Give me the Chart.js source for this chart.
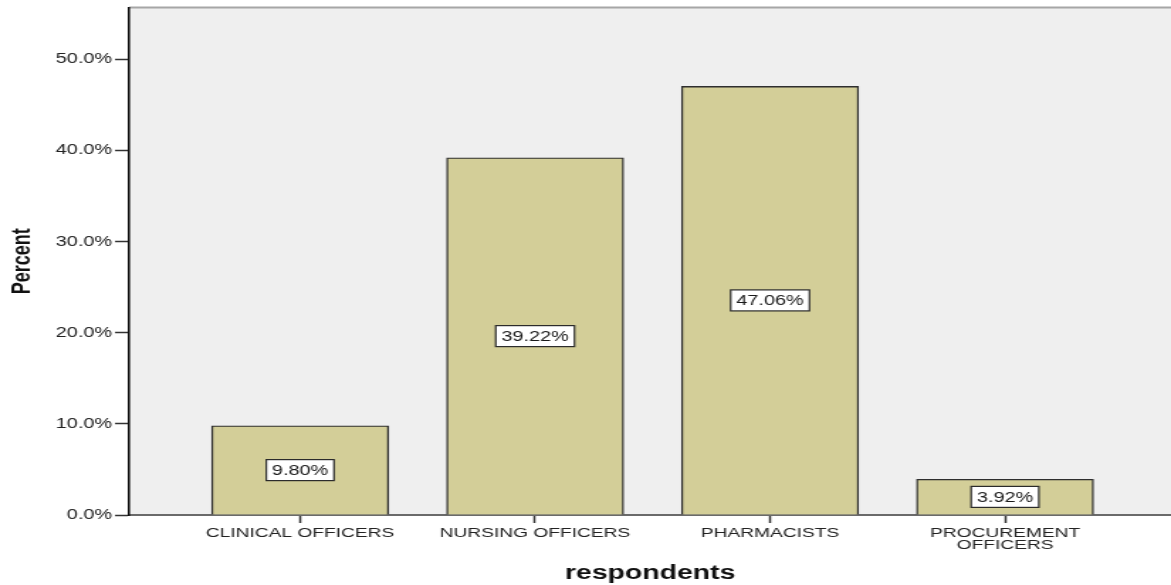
<!DOCTYPE html>
<html>
<head>
<meta charset="utf-8">
<script src="https://cdn.jsdelivr.net/npm/chart.js@4/dist/chart.umd.min.js"></script>
<style>
    html, body { margin: 0; padding: 0; background: #fff; overflow: hidden; }
    #wrap {
        width: 825px;
        height: 585px;
        transform: scaleX(1.41939);
        transform-origin: 0 0;
    }
</style>
</head>
<body>
<div id="wrap"><canvas id="chart" width="825" height="585"></canvas></div>
<script>
const categories = [
    "CLINICAL OFFICERS",
    "NURSING OFFICERS",
    "PHARMACISTS",
    ["PROCUREMENT", "OFFICERS"]
];
const percents = [9.80, 39.22, 47.06, 3.92];
const yTicks = [0, 10, 20, 30, 40, 50];
const positions = [1, 2, 3, 4];

const FONT = "'Liberation Sans', Arial, sans-serif";

const plotBackground = {
    id: "plotBackground",
    beforeDraw(chart) {
        const { ctx, chartArea } = chart;
        ctx.save();
        ctx.fillStyle = "#efefef";
        ctx.fillRect(chartArea.left, chartArea.top, chartArea.right - chartArea.left, chartArea.bottom - chartArea.top);
        ctx.strokeStyle = "#a6a6a6";
        ctx.lineWidth = 2;
        ctx.beginPath();
        ctx.moveTo(chartArea.left, chartArea.top);
        ctx.lineTo(chartArea.right, chartArea.top);
        ctx.stroke();
        ctx.restore();
    }
};

const boxLabels = {
    id: "boxLabels",
    afterDatasetsDraw(chart) {
        const { ctx } = chart;
        const meta = chart.getDatasetMeta(0);
        ctx.save();
        ctx.font = "14px " + FONT;
        ctx.textAlign = "center";
        ctx.textBaseline = "middle";
        meta.data.forEach((bar, i) => {
            const { x, y, base } = bar.getProps(["x", "y", "base"], true);
            const cy = (y + base) / 2;
            const text = percents[i].toFixed(2) + "%";
            const w = ctx.measureText(text).width + 8;
            const h = 21;
            ctx.fillStyle = "#ffffff";
            ctx.fillRect(x - w / 2, cy - h / 2, w, h);
            ctx.strokeStyle = "#2a2a2a";
            ctx.lineWidth = 1.2;
            ctx.strokeRect(x - w / 2, cy - h / 2, w, h);
            ctx.fillStyle = "#1a1a1a";
            ctx.fillText(text, x, cy + 1);
        });
        ctx.restore();
    }
};

new Chart(document.getElementById("chart"), {
    type: "bar",
    data: {
        datasets: [{
            data: positions.map((p, i) => ({ x: p, y: percents[i] })),
            backgroundColor: "#d3ce98",
            borderColor: "#2e2e2e",
            borderWidth: 1.4,
            barThickness: 124.7
        }]
    },
    options: {
        responsive: false,
        animation: false,
        events: [],
        layout: { padding: { top: 7, right: 0, bottom: 0, left: 0 } },
        plugins: {
            legend: { display: false },
            tooltip: { enabled: false }
        },
        scales: {
            x: {
                type: "linear",
                offset: false,
                min: 0.2723,
                max: 4.7065,
                afterBuildTicks: (scale) => {
                    scale.ticks = positions.map((v) => ({ value: v }));
                },
                afterFit: (scale) => {
                    scale.height = 70;
                },
                ticks: {
                    autoSkip: false,
                    maxRotation: 0,
                    padding: 5,
                    color: "#222",
                    font: { family: FONT, size: 13.5, lineHeight: 0.85 },
                    callback: (v) => categories[v - 1]
                },
                grid: {
                    offset: false,
                    drawOnChartArea: false,
                    drawTicks: true,
                    tickLength: 8,
                    tickWidth: 1.5,
                    tickColor: "#333"
                },
                border: { display: true, color: "#6a6a6a", width: 2 },
                title: {
                    display: true,
                    text: "respondents",
                    color: "#111",
                    font: { family: FONT, size: 20, weight: "bold" },
                    padding: { top: 0, bottom: 0 }
                }
            },
            y: {
                min: 0,
                max: 55.7,
                afterBuildTicks: (scale) => {
                    scale.ticks = yTicks.map((v) => ({ value: v }));
                },
                afterFit: (scale) => {
                    scale.width = 91;
                },
                ticks: {
                    padding: 2,
                    color: "#222",
                    font: { family: FONT, size: 14, lineHeight: 0.8 },
                    callback: (v) => v.toFixed(1) + "%"
                },
                grid: {
                    drawOnChartArea: false,
                    drawTicks: true,
                    tickLength: 10,
                    tickWidth: 1.5,
                    tickColor: "#333"
                },
                border: { display: true, color: "#111", width: 1.6 },
                title: {
                    display: true,
                    text: "Percent",
                    color: "#111",
                    font: { family: FONT, size: 18, weight: "bold" },
                    padding: { top: 5, bottom: 0 }
                }
            }
        }
    },
    plugins: [plotBackground, boxLabels]
});
</script>
</body>
</html>
